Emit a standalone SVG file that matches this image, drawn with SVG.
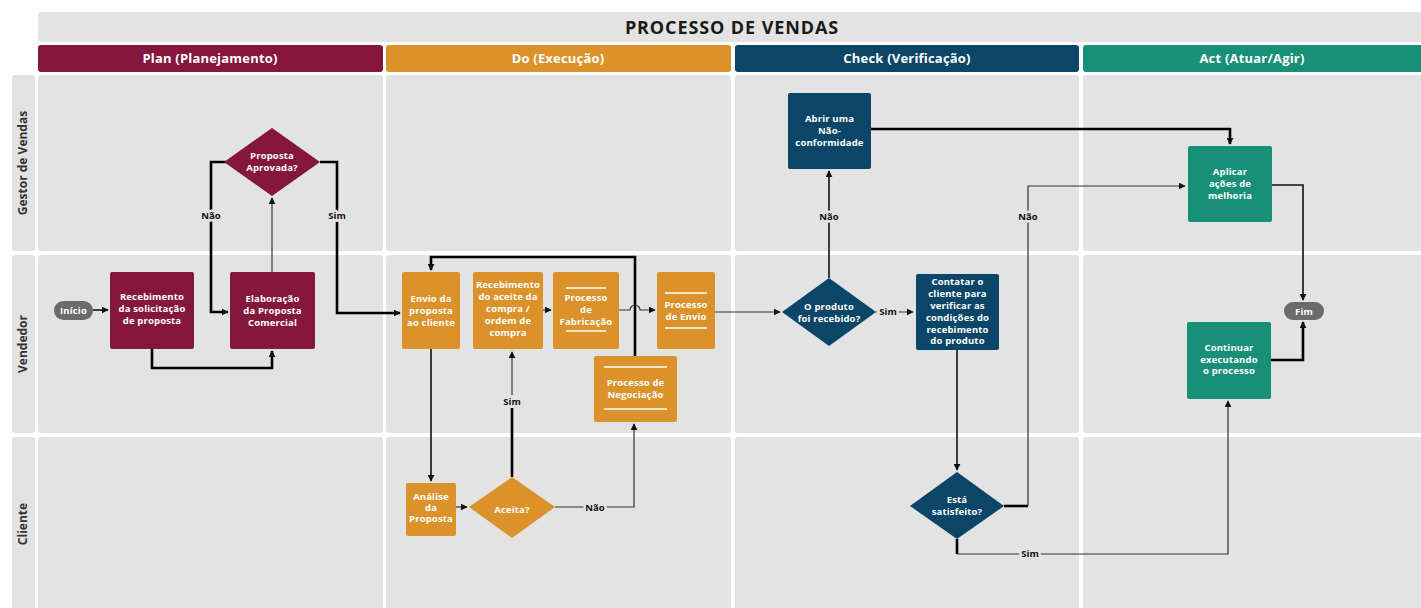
<svg xmlns="http://www.w3.org/2000/svg" width="1421" height="608" viewBox="0 0 1421 608">
  <style>
    .cell { fill: #e3e3e3; }
    .hdr { font-family: "Open Sans", "Liberation Sans", sans-serif; font-weight: 700; font-size: 13px; fill: #fff; text-anchor: middle; letter-spacing: 0.2px; }
    .title { font-family: "Open Sans", "Liberation Sans", sans-serif; font-weight: 700; font-size: 18px; fill: #1a1a1a; text-anchor: middle; letter-spacing: 0.9px; }
    .lane { font-family: "Open Sans", "Liberation Sans", sans-serif; font-weight: 700; font-size: 12px; fill: #333; text-anchor: middle; }
    .nt { font-family: "Open Sans", "Liberation Sans", sans-serif; font-weight: 700; font-size: 9.5px; fill: #fff; text-anchor: middle; letter-spacing: 0.15px; }
    .lbl { font-family: "Open Sans", "Liberation Sans", sans-serif; font-weight: 700; font-size: 9.5px; fill: #111; text-anchor: middle; paint-order: stroke; stroke: #e3e3e3; stroke-width: 5px; }
    .plan { fill: #84173b; }
    .do { fill: #db922a; }
    .check { fill: #0b4669; }
    .act { fill: #179077; }
    .term { fill: #6b6b6b; }
    .bar { stroke: #fff; stroke-width: 1.6; }
    .thick { fill: none; stroke: #000; stroke-width: 2.6; }
    .mid { fill: none; stroke: #111; stroke-width: 1.6; }
    .thin { fill: none; stroke: #333; stroke-width: 1.2; }
    .end { marker-end: url(#arr); }
  </style>
  <defs>
    <marker id="arr" viewBox="0 0 10 10" refX="9" refY="5" markerWidth="7" markerHeight="7" markerUnits="userSpaceOnUse" orient="auto">
      <path d="M0,0 L10,5 L0,10 z" fill="#111"/>
    </marker>
  </defs>

  <rect width="1421" height="608" fill="#fff"/>

  <!-- title bar -->
  <rect x="38" y="12" width="1395" height="30" rx="3" class="cell"/>
  <text x="732" y="34" class="title">PROCESSO DE VENDAS</text>

  <!-- phase headers -->
  <rect x="38" y="45" width="345" height="27" rx="3" class="plan"/>
  <text x="210" y="63" class="hdr">Plan (Planejamento)</text>
  <rect x="386" y="45" width="345" height="27" rx="3" class="do"/>
  <text x="558" y="63" class="hdr">Do (Execução)</text>
  <rect x="735" y="45" width="344" height="27" rx="3" class="check"/>
  <text x="907" y="63" class="hdr">Check (Verificação)</text>
  <rect x="1083" y="45" width="350" height="27" rx="3" class="act"/>
  <text x="1252" y="63" class="hdr">Act (Atuar/Agir)</text>

  <!-- swimlane grid -->
  <g id="lanes">
    <rect x="12" y="75" width="23" height="176" rx="3" class="cell"/>
    <rect x="12" y="255" width="23" height="178" rx="3" class="cell"/>
    <rect x="12" y="437" width="23" height="180" rx="3" class="cell"/>
    <rect x="38" y="75" width="345" height="176" rx="3" class="cell"/>
    <rect x="386" y="75" width="345" height="176" rx="3" class="cell"/>
    <rect x="735" y="75" width="344" height="176" rx="3" class="cell"/>
    <rect x="1083" y="75" width="350" height="176" rx="3" class="cell"/>
    <rect x="38" y="255" width="345" height="178" rx="3" class="cell"/>
    <rect x="386" y="255" width="345" height="178" rx="3" class="cell"/>
    <rect x="735" y="255" width="344" height="178" rx="3" class="cell"/>
    <rect x="1083" y="255" width="350" height="178" rx="3" class="cell"/>
    <rect x="38" y="437" width="345" height="180" rx="3" class="cell"/>
    <rect x="386" y="437" width="345" height="180" rx="3" class="cell"/>
    <rect x="735" y="437" width="344" height="180" rx="3" class="cell"/>
    <rect x="1083" y="437" width="350" height="180" rx="3" class="cell"/>
    <text transform="translate(27,163) rotate(-90)" class="lane">Gestor de Vendas</text>
    <text transform="translate(27,344) rotate(-90)" class="lane">Vendedor</text>
    <text transform="translate(27,524) rotate(-90)" class="lane">Cliente</text>
  </g>

  <!-- connectors -->
  <g id="connectors">
    <path d="M93,310 H108" class="mid end"/>
    <path d="M152,349 V368 H272 V351" class="thick end"/>
    <path d="M272,272 V198" class="thin end"/>
    <path d="M226,162 H211 V312 H228" class="thick end"/>
    <path d="M320,162 H337 V313 H400" class="thick end"/>
    <path d="M431,349 V481" class="mid end"/>
    <path d="M456,507 H467" class="thin end"/>
    <path d="M512,477 V408" class="thick"/>
    <path d="M512,395 V352" class="thin end"/>
    <path d="M555,507 H634 V424" class="thin end"/>
    <path d="M635,356 V257 H431 V270" class="thick end"/>
    <path d="M543,310 H551" class="thin end"/>
    <path d="M619,310 H630 A5,5 0 0 1 640,310 H655" class="thin end"/>
    <path d="M715,312 H780" class="thin end"/>
    <path d="M829,278 V171" class="mid end"/>
    <path d="M876,312 H913" class="thin end"/>
    <path d="M871,129 H1230 V144" class="thick end"/>
    <path d="M957,350 V470" class="mid end"/>
    <path d="M1004,506 H1028" class="thick"/>
    <path d="M1028,506 V186 H1185" class="thin end"/>
    <path d="M957,539 V554" class="thick"/>
    <path d="M957,554 H1228 V401" class="thin end"/>
    <path d="M1272,185 H1303 V300" class="mid end"/>
    <path d="M1271,360 H1303 V322" class="thick end"/>
    <text x="211" y="219" class="lbl">Não</text>
    <text x="337" y="219" class="lbl">Sim</text>
    <text x="512" y="405" class="lbl">Sim</text>
    <text x="595" y="511" class="lbl">Não</text>
    <text x="829" y="220" class="lbl">Não</text>
    <text x="888" y="315" class="lbl">Sim</text>
    <text x="1028" y="220" class="lbl">Não</text>
    <text x="1030" y="557" class="lbl">Sim</text>
  </g>

  <!-- Plan -->
  <g id="inicio">
    <rect x="54" y="301" width="39" height="19" rx="9.5" class="term"/>
    <text x="73.5" y="314" class="nt">Início</text>
  </g>
  <g id="recebimento-solicitacao">
    <rect x="110" y="272" width="84" height="77" rx="2" class="plan"/>
    <text x="152" y="300" class="nt">Recebimento</text>
    <text x="152" y="312" class="nt">da solicitação</text>
    <text x="152" y="324" class="nt">de proposta</text>
  </g>
  <g id="elaboracao">
    <rect x="230" y="272" width="85" height="77" rx="2" class="plan"/>
    <text x="272.5" y="302" class="nt">Elaboração</text>
    <text x="272.5" y="314" class="nt">da Proposta</text>
    <text x="272.5" y="326" class="nt">Comercial</text>
  </g>
  <g id="proposta-aprovada">
    <path d="M272,128 L320,162 L272,196 L224,162 z" class="plan"/>
    <text x="272" y="159" class="nt">Proposta</text>
    <text x="272" y="171" class="nt">Aprovada?</text>
  </g>

  <!-- Do -->
  <g id="envio-proposta">
    <rect x="402" y="272" width="58" height="77" rx="2" class="do"/>
    <text x="431" y="302" class="nt">Envio da</text>
    <text x="431" y="314" class="nt">proposta</text>
    <text x="431" y="326" class="nt">ao cliente</text>
  </g>
  <g id="recebimento-aceite">
    <rect x="473" y="272" width="70" height="77" rx="2" class="do"/>
    <text x="508" y="288" class="nt">Recebimento</text>
    <text x="508" y="300" class="nt">do aceite da</text>
    <text x="508" y="312" class="nt">compra /</text>
    <text x="508" y="324" class="nt">ordem de</text>
    <text x="508" y="336" class="nt">compra</text>
  </g>
  <g id="fabricacao">
    <rect x="553" y="272" width="66" height="77" rx="2" class="do"/>
    <path d="M566,288 H606 M566,331 H606" class="bar"/>
    <text x="586" y="301" class="nt">Processo</text>
    <text x="586" y="313" class="nt">de</text>
    <text x="586" y="325" class="nt">Fabricação</text>
  </g>
  <g id="processo-envio">
    <rect x="657" y="272" width="58" height="77" rx="2" class="do"/>
    <path d="M665,293 H707 M665,328 H707" class="bar"/>
    <text x="686" y="308" class="nt">Processo</text>
    <text x="686" y="320" class="nt">de Envio</text>
  </g>
  <g id="negociacao">
    <rect x="594" y="356" width="83" height="66" rx="2" class="do"/>
    <path d="M604,367 H667 M604,409 H667" class="bar"/>
    <text x="635.5" y="386" class="nt">Processo de</text>
    <text x="635.5" y="398" class="nt">Negociação</text>
  </g>
  <g id="analise">
    <rect x="406" y="483" width="50" height="53" rx="2" class="do"/>
    <text x="431" y="500" class="nt">Análise</text>
    <text x="431" y="511" class="nt">da</text>
    <text x="431" y="522" class="nt">Proposta</text>
  </g>
  <g id="aceita">
    <path d="M512,477 L555,507 L512,538 L469,507 z" class="do"/>
    <text x="512" y="513" class="nt">Aceita?</text>
  </g>

  <!-- Check -->
  <g id="nao-conformidade">
    <rect x="788" y="93" width="83" height="76" rx="2" class="check"/>
    <text x="829.5" y="122" class="nt">Abrir uma</text>
    <text x="829.5" y="134" class="nt">Não-</text>
    <text x="829.5" y="146" class="nt">conformidade</text>
  </g>
  <g id="produto-recebido">
    <path d="M829,278 L876,312 L829,346 L782,312 z" class="check"/>
    <text x="829" y="310" class="nt">O produto</text>
    <text x="829" y="322" class="nt">foi recebido?</text>
  </g>
  <g id="contatar-cliente">
    <rect x="916" y="274" width="83" height="76" rx="2" class="check"/>
    <text x="957.5" y="285" class="nt">Contatar o</text>
    <text x="957.5" y="297" class="nt">cliente para</text>
    <text x="957.5" y="309" class="nt">verificar as</text>
    <text x="957.5" y="321" class="nt">condições do</text>
    <text x="957.5" y="333" class="nt">recebimento</text>
    <text x="957.5" y="344" class="nt">do produto</text>
  </g>
  <g id="satisfeito">
    <path d="M957,472 L1004,506 L957,539 L910,506 z" class="check"/>
    <text x="957" y="503" class="nt">Está</text>
    <text x="957" y="515" class="nt">satisfeito?</text>
  </g>

  <!-- Act -->
  <g id="aplicar-melhoria">
    <rect x="1188" y="146" width="84" height="76" rx="2" class="act"/>
    <text x="1230" y="175" class="nt">Aplicar</text>
    <text x="1230" y="187" class="nt">ações de</text>
    <text x="1230" y="199" class="nt">melhoria</text>
  </g>
  <g id="continuar">
    <rect x="1187" y="322" width="84" height="77" rx="2" class="act"/>
    <text x="1229" y="351" class="nt">Continuar</text>
    <text x="1229" y="363" class="nt">executando</text>
    <text x="1229" y="374" class="nt">o processo</text>
  </g>
  <g id="fim">
    <rect x="1284" y="302" width="40" height="18" rx="9" class="term"/>
    <text x="1304" y="314.5" class="nt">Fim</text>
  </g>
</svg>
